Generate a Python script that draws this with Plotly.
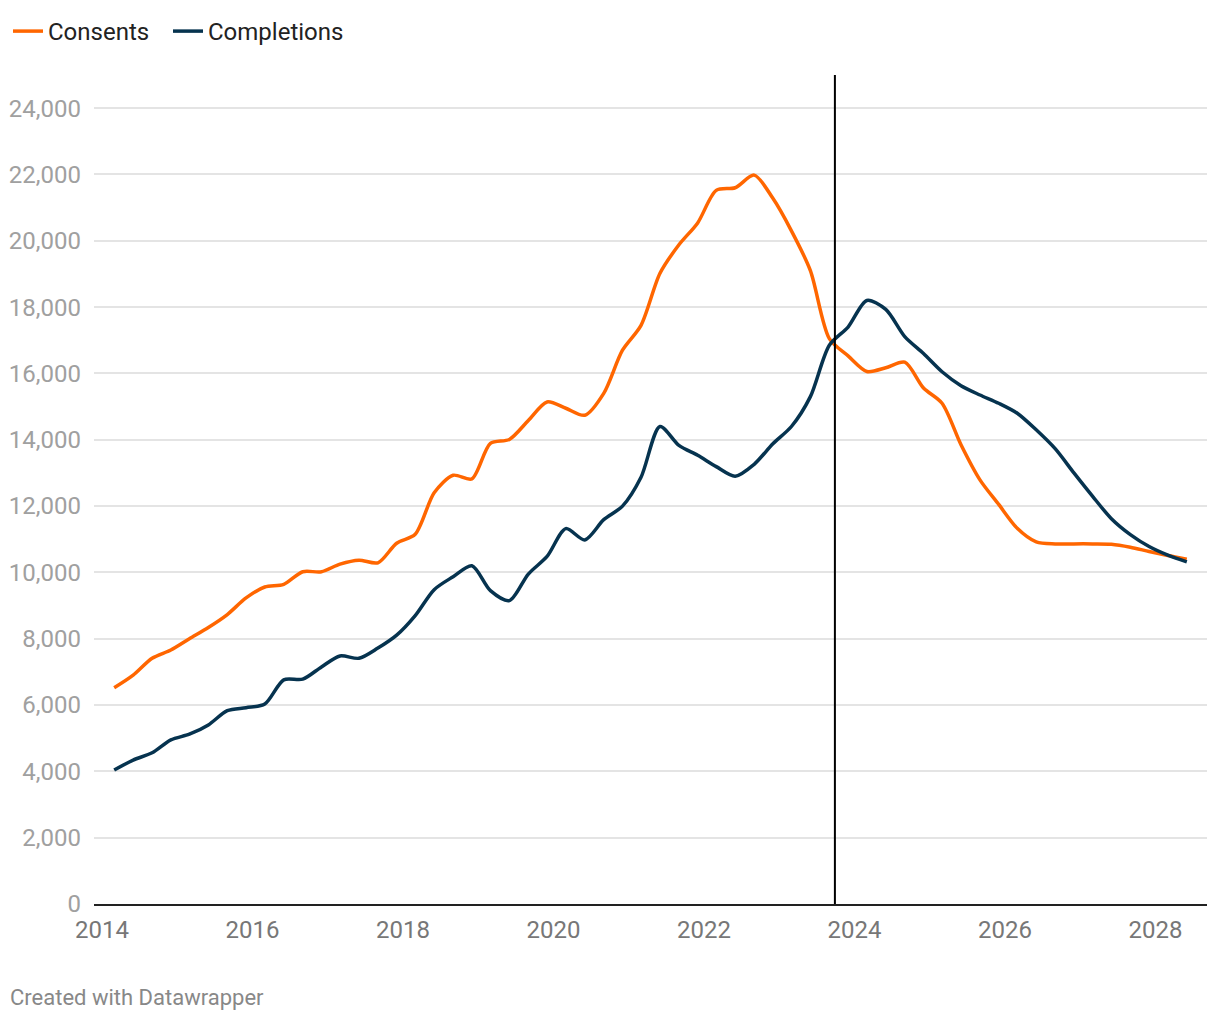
import pandas as pd
import plotly.graph_objects as go

# Quarterly dates (Mar 2014 .. Jun 2028)
dates = pd.date_range("2014-03-01", periods=58, freq="3MS")

consents = [6520, 6900, 7410, 7660, 8000, 8340, 8730, 9230, 9560, 9640,
            10020, 10020, 10250, 10370, 10290, 10880, 11150, 12400, 12930, 12820,
            13890, 14010, 14580, 15140, 14950, 14740, 15400, 16700, 17450, 19020,
            19880, 20540, 21520, 21600, 21980, 21280, 20300, 19100, 17050, 16530,
            16060, 16170, 16340, 15560, 15100, 13850, 12790, 12050, 11330, 10920,
            10860, 10860, 10860, 10850, 10760, 10630, 10510, 10400]

completions = [4040, 4340, 4560, 4950, 5120, 5400, 5830, 5920, 6030, 6760,
               6780, 7150, 7480, 7410, 7720, 8110, 8700, 9480, 9870, 10200,
               9450, 9150, 9950, 10480, 11320, 10980, 11590, 12000, 12870, 14400,
               13830, 13530, 13190, 12900, 13260, 13880, 14400, 15300, 16850, 17400,
               18200, 17930, 17110, 16600, 16050, 15630, 15350, 15100, 14800, 14300,
               13730, 13000, 12300, 11620, 11140, 10780, 10520, 10320]

marker_date = "2023-09-28"
y_ticks = [0, 2000, 4000, 6000, 8000, 10000, 12000, 14000, 16000, 18000, 20000, 22000, 24000]
x_ticks = ["2014-01-01", "2016-01-01", "2018-01-01", "2020-01-01", "2022-01-01",
           "2024-01-01", "2026-01-01", "2028-01-01"]
x_labels = ["2014", "2016", "2018", "2020", "2022", "2024", "2026", "2028"]

ORANGE = "#ff6600"
NAVY = "#06334f"

fig = go.Figure()
fig.add_trace(go.Scatter(x=dates, y=consents, name="Consents", mode="lines", legend="legend",
                         line=dict(color=ORANGE, width=3.5, shape="spline", smoothing=0.8)))
fig.add_trace(go.Scatter(x=dates, y=completions, name="Completions", mode="lines", legend="legend2",
                         line=dict(color=NAVY, width=3.5, shape="spline", smoothing=0.8)))

fig.add_shape(type="line", xref="x", yref="paper", x0=marker_date, x1=marker_date,
              y0=0, y1=1, line=dict(color="#000000", width=2))

fig.add_annotation(text="Created with Datawrapper", xref="paper", yref="paper",
                   x=-0.0775, y=-0.1122, xanchor="left", yanchor="middle",
                   showarrow=False, font=dict(family="Roboto", size=22, color="#888888"))

legend_common = dict(orientation="h", xref="container", yref="container",
                     y=1 - 1 / 1020, xanchor="left", yanchor="top",
                     font=dict(family="Roboto", size=24, color="#222222"),
                     itemwidth=30, tracegroupgap=0, bgcolor="rgba(0,0,0,0)")

fig.update_layout(
    width=1220, height=1020,
    margin=dict(l=86, r=21, t=67, b=124, pad=0, autoexpand=False),
    paper_bgcolor="white", plot_bgcolor="white",
    font=dict(family="Roboto"),
    showlegend=True,
    legend=dict(x=-0.002, **legend_common),
    legend2=dict(x=160 / 1220, **legend_common),
    xaxis=dict(type="date", range=["2013-11-23", "2028-09-07"],
               tickvals=x_ticks, ticktext=x_labels, automargin=False,
               showgrid=False, showline=True, linecolor="#222222", linewidth=2,
               ticks="", tickfont=dict(family="Roboto", size=24, color="#777777"),
               ticklabelstandoff=3, zeroline=False),
    yaxis=dict(range=[0, 25000], tickvals=y_ticks, automargin=False,
               ticktext=[f"{v:,}" for v in y_ticks],
               showgrid=True, gridcolor="#e4e4e4", gridwidth=1.5,
               zeroline=False, showline=False, ticks="",
               tickfont=dict(family="Roboto", size=24, color="#a0a0a0"),
               ticklabelstandoff=12),
)

fig.write_html("out.html")
